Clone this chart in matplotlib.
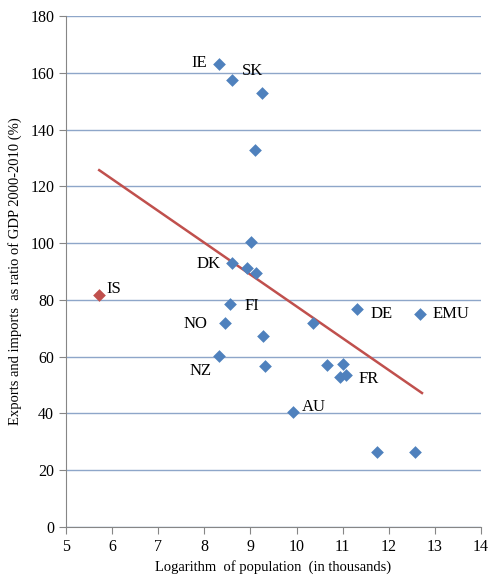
import numpy as np
import matplotlib
matplotlib.use("Agg")
import matplotlib.pyplot as plt

plt.rcParams['font.family'] = ['Liberation Serif', 'DejaVu Serif']

# data
log_pop = [8.32, 8.60, 9.25, 9.10, 9.01, 8.60, 8.93, 9.12, 8.56, 8.45, 9.27,
           8.32, 9.32, 10.36, 11.31, 12.68, 10.66, 11.01, 10.95, 11.07, 9.93,
           11.75, 12.57]
trade = [163.1, 157.4, 152.9, 132.8, 100.4, 93.0, 91.2, 89.5, 78.5, 71.9, 67.3,
         60.2, 56.7, 71.9, 76.8, 75.0, 57.1, 57.4, 52.8, 53.5, 40.5,
         26.4, 26.4]
is_x, is_y = [5.72], [81.7]
trend_x = [5.72, 12.72]
trend_y = [125.7, 47.2]

labels = ['IE', 'SK', 'DK', 'FI', 'NO', 'NZ', 'DE', 'EMU', 'FR', 'AU', 'IS']
label_x = [7.73, 8.82, 7.84, 8.88, 7.54, 7.67, 11.60, 12.95, 11.35, 10.12, 5.88]
label_y = [163.5, 160.6, 92.6, 77.8, 71.5, 55.0, 75.0, 75.0, 52.0, 42.3, 83.8]

fig = plt.figure(figsize=(4.90, 5.81), dpi=100)
ax = fig.add_axes([66/490, 1 - 527/581, 415/490, 511/581])

ax.scatter(log_pop, trade, marker='D', s=42, color='#4F81BD', zorder=3, linewidths=0)
ax.scatter(is_x, is_y, marker='D', s=42, color='#C0504D', zorder=3, linewidths=0)
ax.plot(trend_x, trend_y, color='#C0504D', lw=1.8, zorder=2)

for t, x, y in zip(labels, label_x, label_y):
    ax.text(x, y, t, fontsize=12, va='center', ha='left')

ax.set_xlim(5, 14)
ax.set_ylim(0, 180)
ax.set_xticks(range(5, 15))
ax.set_yticks(range(0, 181, 20))
ax.yaxis.grid(True, color='#8EA6C9', lw=1)
ax.set_axisbelow(True)
for s in ['top', 'right']:
    ax.spines[s].set_visible(False)
for s in ['left', 'bottom']:
    ax.spines[s].set_color('#868686')
ax.tick_params(axis='both', colors='#868686', labelcolor='black', labelsize=11.5,
               length=5, direction='out')

ax.set_xlabel('Logarithm  of population  (in thousands)', fontsize=10.5)
ax.set_ylabel('Exports and imports  as ratio of GDP 2000-2010 (%)', fontsize=10.5, labelpad=6)

fig.savefig('out.png', dpi=100)
